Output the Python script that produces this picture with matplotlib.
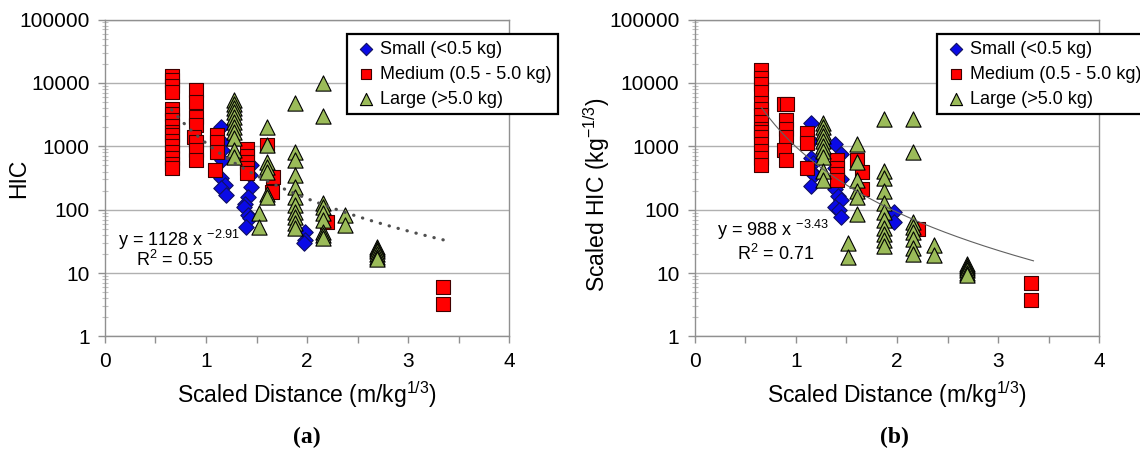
import matplotlib
matplotlib.use("Agg")
import matplotlib.pyplot as plt
import numpy as np
from matplotlib.ticker import LogLocator, NullFormatter, MultipleLocator

plt.rcParams['font.family'] = ['Liberation Sans', 'DejaVu Sans']
plt.rcParams['mathtext.default'] = 'regular'

# ---- panel (a): HIC ----
small_a_x = [1.15, 1.16, 1.16, 1.16, 1.15, 1.19, 1.15, 1.20,
             1.45, 1.44, 1.45, 1.42, 1.39, 1.38, 1.42, 1.44, 1.40,
             1.98, 1.98, 1.97]
small_a_y = [2000, 1170, 870, 600, 316, 245, 220, 170,
             500, 355, 230, 160, 125, 110, 83, 74, 54,
             45, 33, 30]

medium_a_x = [0.66] * 16 + [0.90, 0.90, 0.90, 0.90, 0.88, 0.90, 0.90, 0.90,
                            1.11, 1.11, 1.11, 1.09,
                            1.41, 1.41, 1.41, 1.41, 1.41,
                            1.60, 1.66, 1.65, 2.20, 3.35, 3.35]
medium_a_y = [12800, 11000, 9000, 7200,
              3900, 3200, 2600, 2100, 1700, 1500, 1200, 1000, 800, 650, 520, 450,
              7700, 5000, 2900, 2150, 1400, 1170, 870, 600,
              1500, 1170, 810, 425,
              900, 700, 560, 450, 380,
              1050, 330, 190, 64, 6.0, 3.3]

large_a_x = [1.28] * 11 + [1.52, 1.52] + [1.60] * 7 + [1.88] * 11 \
    + [2.16] * 9 + [2.38, 2.38] + [2.69] * 6
large_a_y = [5400, 4700, 4000, 3450, 2900, 2400, 2000, 1660, 1340, 870, 680,
             89, 54,
             2000, 1050, 560, 470, 390, 180, 160,
             4800, 810, 600, 355, 230, 160, 118, 92, 77, 62, 51,
             10000, 3000, 130, 110, 90, 70, 45, 40, 36,
             82, 58,
             26, 24, 22, 20, 18, 17]

# ---- panel (b): scaled HIC ----
small_b_x = [1.15, 1.15, 1.15, 1.17, 1.15, 1.18, 1.15,
             1.39, 1.45, 1.39, 1.45, 1.39, 1.42, 1.45, 1.39, 1.43, 1.45,
             1.97, 1.97]
small_b_y = [2300, 1230, 660, 540, 415, 350, 240,
             1100, 760, 450, 310, 215, 167, 140, 110, 98, 78,
             91, 65]

medium_b_x = [0.66] * 15 + [0.88, 0.91, 0.90, 0.90, 0.90, 0.88, 0.90,
                            1.11, 1.11, 1.11,
                            1.41, 1.41, 1.41, 1.41,
                            1.60, 1.65, 1.65, 2.21, 3.33, 3.33]
medium_b_y = [15800, 12200, 9800, 7300,
              4900, 3950, 3080, 2400, 1900, 1700, 1380, 1100, 860, 660, 500,
              4700, 4700, 2560, 1900, 1380, 890, 600,
              1600, 1140, 460,
              600, 460, 370, 290,
              600, 390, 215, 50, 6.9, 3.7]

large_b_x = [1.27] * 10 + [1.52, 1.52] + [1.60] * 6 + [1.87] * 11 \
    + [2.16] * 8 + [2.37, 2.37] + [2.69] * 6
large_b_y = [2300, 2000, 1700, 1480, 1230, 1020, 860, 690, 415, 290,
             30, 18,
             1100, 560, 290, 200, 158, 87,
             2750, 415, 320, 200, 130, 91, 68, 52, 42, 33, 27,
             2700, 800, 63, 53, 44, 35, 25, 20,
             27.5, 19,
             14, 13, 12, 11, 10, 9.5]

# power-law fits shown on the chart
fit_a = (1128, -2.91, 0.55)
fit_b = (988, -3.43, 0.71)
fit_range = (0.66, 3.35)

labels = ["Small (<0.5 kg)", "Medium (0.5 - 5.0 kg)", "Large (>5.0 kg)"]


def draw_panel(ax, small, medium, large, fit, ylabel, fit_style, eq_pos, r2_off, ylab_pos):
    ax.scatter(small[0], small[1], marker="D", s=62, color="#0a0ae6",
               edgecolor="#101060", linewidth=0.8, label=labels[0], zorder=3)
    ax.scatter(medium[0], medium[1], marker="s", s=95, color="#ff0000",
               edgecolor="#400000", linewidth=0.8, label=labels[1], zorder=3)
    ax.scatter(large[0], large[1], marker="^", s=120, color="#9bbb59",
               edgecolor="#000000", linewidth=0.8, label=labels[2], zorder=3)

    a, b, r2 = fit
    xs = np.linspace(fit_range[0], fit_range[1], 200)
    ax.plot(xs, a * xs ** b, zorder=4, **fit_style)

    ax.set_yscale("log")
    ax.set_xlim(0, 4)
    ax.set_ylim(1, 100000)
    ax.yaxis.set_minor_locator(LogLocator(base=10, subs=np.arange(2, 10), numticks=10))
    ax.yaxis.set_minor_formatter(NullFormatter())
    ax.set_yticks([1, 10, 100, 1000, 10000, 100000])
    ax.set_yticklabels(["1", "10", "100", "1000", "10000", "100000"])
    ax.xaxis.set_major_locator(MultipleLocator(1))
    ax.xaxis.set_minor_locator(MultipleLocator(0.5))

    ax.grid(True, which="major", axis="y", color="#b0b0b0", linewidth=1.0)
    ax.set_axisbelow(True)
    for sp in ax.spines.values():
        sp.set_color("#909090")
        sp.set_linewidth(1.0)
    ax.tick_params(axis="both", which="major", labelsize=15, color="#909090",
                   length=5, width=1, pad=6)
    ax.tick_params(axis="x", which="minor", color="#909090", length=5, width=1)
    ax.tick_params(axis="y", which="minor", color="#c0c0c0", length=4,
                   width=0.8, direction="inout")

    ax.set_xlabel("Scaled Distance (m/kg$^{1/3}$)", fontsize=16.5, labelpad=6)
    ax.set_ylabel(ylabel, fontsize=16.5)
    ax.yaxis.set_label_coords(ylab_pos[0], ylab_pos[1])

    ax.text(eq_pos[0], eq_pos[1], "y = %d x $^{%.2f}$" % (a, b),
            transform=ax.transAxes, fontsize=13, ha="left", va="center")
    ax.text(eq_pos[0] + r2_off[0], eq_pos[1] - r2_off[1], "R$^2$ = %.2f" % r2,
            transform=ax.transAxes, fontsize=13, ha="left", va="center")

    leg = ax.legend(loc="upper left", bbox_to_anchor=(0.598, 0.953),
                    fontsize=13, frameon=True, fancybox=False,
                    handletextpad=0.1, handlelength=1.4, labelspacing=0.45,
                    borderpad=0.35, borderaxespad=0, scatterpoints=1,
                    markerscale=0.8)
    leg.get_frame().set_edgecolor("black")
    leg.get_frame().set_linewidth(1.6)
    leg.get_frame().set_alpha(1)
    return leg


fig = plt.figure(figsize=(11.4, 4.59), dpi=100)
ax1 = fig.add_axes([0.0921, 0.2669, 0.3544, 0.6904])
ax2 = fig.add_axes([0.6094, 0.2669, 0.3548, 0.6904])

draw_panel(ax1, (small_a_x, small_a_y), (medium_a_x, medium_a_y),
           (large_a_x, large_a_y), fit_a, "HIC",
           dict(color="#505050", linestyle=(0, (0.1, 2.8)), linewidth=2.3,
                dash_capstyle="round"),
           (0.032, 0.304), (0.045, 0.063), (-0.186, 0.5))
draw_panel(ax2, (small_b_x, small_b_y), (medium_b_x, medium_b_y),
           (large_b_x, large_b_y), fit_b, "Scaled HIC (kg$^{-1/3}$)",
           dict(color="#606060", linestyle="-", linewidth=0.8),
           (0.055, 0.336), (0.05, 0.074), (-0.204, 0.446))

fig.text(0.269, 0.048, "(a)", fontsize=17, fontweight="bold",
         family="Liberation Serif", ha="center", va="center")
fig.text(0.785, 0.048, "(b)", fontsize=17, fontweight="bold",
         family="Liberation Serif", ha="center", va="center")

fig.savefig("out.png", dpi=100)
